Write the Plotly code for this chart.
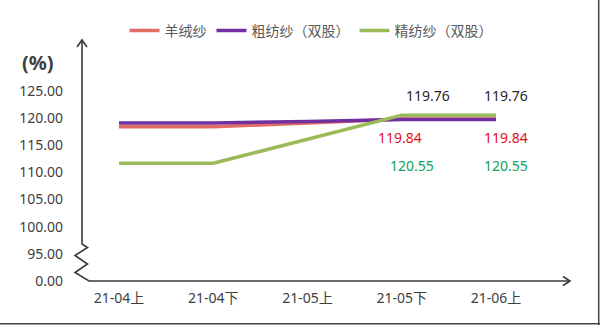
import plotly.graph_objects as go

# Half-month periods on the x axis
periods = ["21-04上", "21-04下", "21-05上", "21-05下", "21-06上"]

# Series values (%)
cashmere = [118.4, 118.4, 119.1, 119.84, 119.84]        # 羊绒纱
woolen_2ply = [119.1, 119.1, 119.4, 119.76, 119.76]     # 粗纺纱（双股）
worsted_2ply = [111.7, 111.7, 116.1, 120.55, 120.55]    # 精纺纱（双股）

# Broken y axis: the bottom tick stands for 0.00, the rest are real values
ytick_vals = [90, 95, 100, 105, 110, 115, 120, 125]
ytick_text = ["0.00", "95.00", "100.00", "105.00", "110.00", "115.00", "120.00", "125.00"]

# Which points carry a value label
labelled = [3, 4]

W, H = 600, 325
ML, MT, MR, MB = 82, 40, 30, 44
PW, PH = W - ML - MR, H - MT - MB

FONT = "Noto Sans, Noto Sans CJK SC, sans-serif"
AXIS = "#3a3a3a"


def px(x):
    return (x - ML) / PW


def py(y):
    return (H - MB - y) / PH


def path(points):
    return "M" + " L".join(f"{px(x):.5f},{py(y):.5f}" for x, y in points)


fig = go.Figure()
series = [
    ("羊绒纱", cashmere, "#E36C66"),
    ("粗纺纱（双股）", woolen_2ply, "#7030A0"),
    ("精纺纱（双股）", worsted_2ply, "#9BBB59"),
]
for name, vals, color in series:
    fig.add_trace(go.Scatter(
        x=list(range(len(periods))), y=vals, name=name, mode="lines",
        line=dict(color=color, width=3.5),
    ))

# Value labels next to the last two points
label_specs = [
    (woolen_2ply, "#262626", [26, 10], 24),
    (cashmere, "#E3101C", [-2, 10], -18),
    (worsted_2ply, "#0E9F5A", [10, 10], -50),
]
annotations = []
for vals, color, xshifts, yshift in label_specs:
    for i, xs in zip(labelled, xshifts):
        annotations.append(dict(
            x=i, y=vals[i], text=f"{vals[i]:.2f}", showarrow=False,
            xshift=xs, yshift=yshift, xanchor="center", yanchor="middle",
            font=dict(family=FONT, size=14, color=color),
        ))

# Unit caption
annotations.append(dict(
    x=px(38), y=py(62), xref="paper", yref="paper", text="<b>(%)</b>",
    showarrow=False, xanchor="center", yanchor="middle",
    font=dict(family=FONT, size=20, color="#404040"),
))

shapes = [
    # y axis with a zigzag break, joining the x axis
    dict(type="path", xref="paper", yref="paper",
         path=path([(82, 40), (82, 244), (87.5, 247.5), (75, 255.5), (87.5, 264),
                    (75, 272.5), (89, 281), (570, 281)]),
         line=dict(color=AXIS, width=1.6)),
    # arrow heads
    dict(type="path", xref="paper", yref="paper",
         path=path([(77, 47), (82, 40), (87, 47)]),
         line=dict(color=AXIS, width=1.6)),
    dict(type="path", xref="paper", yref="paper",
         path=path([(563, 276.5), (570, 281), (563, 285.5)]),
         line=dict(color=AXIS, width=1.6)),
    # frame edges
    dict(type="line", xref="paper", yref="paper",
         x0=px(0), x1=px(600), y0=py(323.7), y1=py(323.7),
         line=dict(color="#444444", width=1.5)),
    dict(type="line", xref="paper", yref="paper",
         x0=px(598.7), x1=px(598.7), y0=py(0), y1=py(325),
         line=dict(color="#444444", width=1.5)),
]

n = len(periods)
step = 94.25
x_lo = -(119 - ML) / step
x_hi = x_lo + PW / step

y_lo = 90
px_per_unit = (H - MB - 91) / (125 - y_lo)
y_hi = 125 + (91 - MT) / px_per_unit

fig.update_layout(
    width=W, height=H,
    margin=dict(l=ML, r=MR, t=MT, b=MB, autoexpand=False),
    paper_bgcolor="white", plot_bgcolor="white",
    showlegend=True,
    legend=dict(
        orientation="h", xref="container", yref="container",
        x=311 / W, xanchor="center", y=1 - 31 / H, yanchor="middle",
        font=dict(family=FONT, size=14, color="#595959"),
        bgcolor="rgba(0,0,0,0)", traceorder="normal",
    ),
    xaxis=dict(
        range=[x_lo, x_hi], tickmode="array", tickvals=list(range(n)), ticktext=periods,
        showgrid=False, zeroline=False, showline=False,
        ticks="", ticklabelstandoff=7,
        tickfont=dict(family=FONT, size=14, color="#404040"),
    ),
    yaxis=dict(
        range=[y_lo, y_hi], tickmode="array", tickvals=ytick_vals, ticktext=ytick_text,
        showgrid=False, zeroline=False, showline=False,
        ticks="", ticklabelstandoff=18,
        tickfont=dict(family=FONT, size=14, color="#404040"),
    ),
    annotations=annotations,
    shapes=shapes,
)

fig.write_html("out.html", config={"displayModeBar": False})
